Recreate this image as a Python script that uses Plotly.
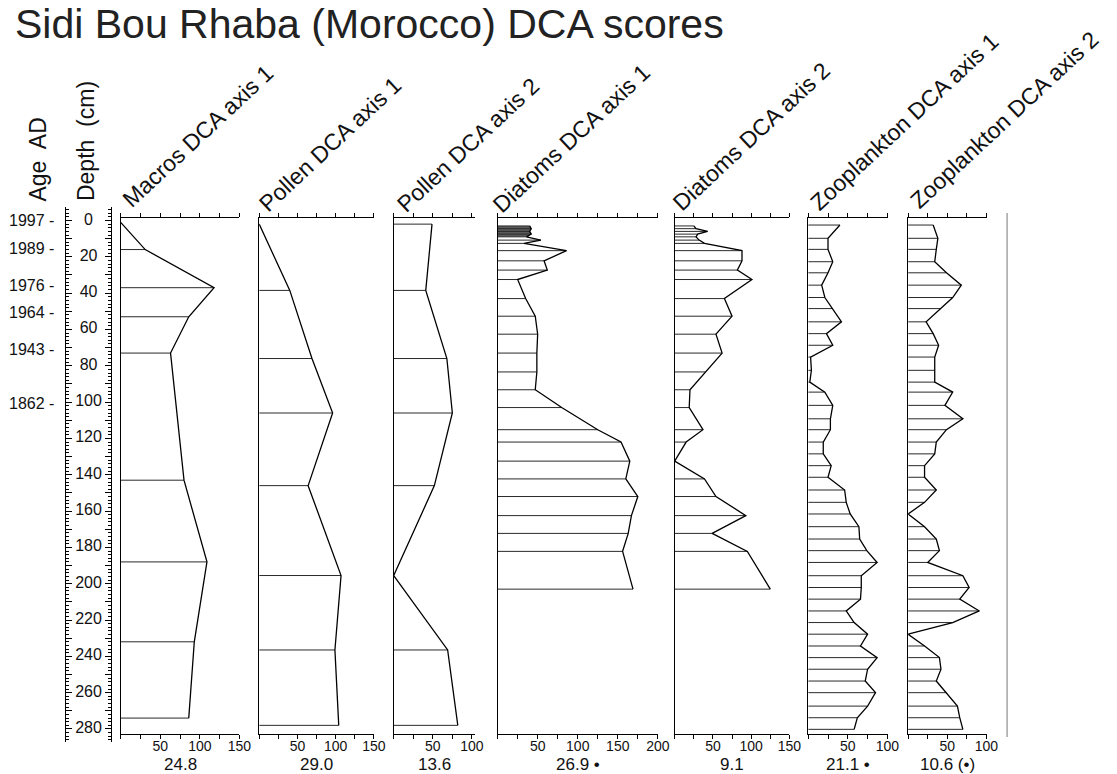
import plotly.graph_objects as go

# ---------------- data ----------------
macro_depth = [1, 16, 37, 53, 73, 143, 188, 232, 274]
macro_dca1 = [0, 31, 118, 86, 63, 80, 109, 93, 86]

pollen_depth = [2, 38.5, 76, 106, 146, 195.5, 236.5, 278]
pollen_dca1 = [0, 40, 69, 96, 64, 107, 99, 104]
pollen_dca2 = [49, 41, 68, 75, 52, 0, 69, 82]

diatom_depth = [3, 4.5, 6, 7.5, 9, 10.8, 12.6, 16.6, 22.2, 27.3, 32.5, 43, 52.7, 62.6,
                73, 83.4, 93.2, 103, 115.2, 122, 132.5, 142.3, 152, 162.5, 172.3, 182.2, 203]
diatom_dca1 = [40, 42, 40, 42, 36, 54, 33, 86, 58, 62, 25, 35, 47, 50,
               49, 49, 47, 80, 125, 154, 165, 160, 175, 167, 163, 156, 169]
diatom_dca2 = [25, 28, 43, 30, 28, 32, 39, 88, 88, 82, 101, 65, 75, 54,
               62, 40, 20, 19, 37, 15, 0, 39, 54, 93, 49, 95, 125]

zoo_depth = [2.5, 9.8, 15.9, 22.7, 28.8, 35.6, 42.4, 48.5, 55.8, 62.3, 68.7, 75.2, 82.5, 89,
             94.5, 101.8, 109.2, 115.2, 122, 128.5, 135, 141.4, 148.4, 155.2, 161.6, 168.6,
             175.4, 181.8, 188.3, 195.6, 202.1, 208.5, 215, 221.4, 227.8, 234.3, 240.7, 247.1,
             253.6, 260, 267.4, 273.8, 280.2]
zoo_dca1 = [40, 25, 25, 31, 25, 17, 21, 31, 42, 23, 31, 3, 4, 2,
            21, 31, 28, 28, 19, 19, 29, 25, 46, 48, 53, 64,
            65, 74, 87, 67, 67, 66, 48, 58, 75, 66, 87, 75,
            72, 85, 75, 62, 58]
zoo_dca2 = [32, 38, 36, 34, 49, 68, 57, 42, 23, 32, 39, 34, 34, 34,
            57, 47, 70, 49, 36, 34, 21, 21, 36, 21, 0, 21,
            36, 40, 25, 70, 78, 66, 91, 57, 0, 21, 40, 42,
            36, 49, 63, 66, 70]

panel_titles = ["Macros DCA axis 1", "Pollen DCA axis 1", "Pollen DCA axis 2",
                "Diatoms DCA axis 1", "Diatoms DCA axis 2",
                "Zooplankton DCA axis 1", "Zooplankton DCA axis 2"]
panel_stats = ["24.8", "29.0", "13.6", "26.9 \u2022", "9.1", "21.1 \u2022", "10.6 (\u2022)"]
panel_xmax = [150, 150, 100, 200, 150, 100, 100]

depth_ticks = list(range(0, 281, 20))
age_labels = ["1997", "1989", "1976", "1964", "1943", "1862"]
age_depths = [0, 15.4, 35.7, 50.5, 70.9, 100.5]

title_text = "Sidi Bou Rhaba (Morocco) DCA scores"

# ---------------- layout helpers ----------------
W, H = 1117, 774
def px(x):
    return x / W
def py(y):
    return 1 - y / H

ZERO_Y, PX_PER_CM = 220.5, 1.816
def depth_at(y):
    return (y - ZERO_Y) / PX_PER_CM

FONT = "Liberation Sans, Arial, sans-serif"
INK = "#111111"

series = [
    (macro_depth, macro_dca1),
    (pollen_depth, pollen_dca1),
    (pollen_depth, pollen_dca2),
    (diatom_depth, diatom_dca1),
    (diatom_depth, diatom_dca2),
    (zoo_depth, zoo_dca1),
    (zoo_depth, zoo_dca2),
]
# pixel geometry: (left px of 0, right px, range max)
geom = [(122, 242, 150), (262, 378, 150), (398, 480, 103.8), (503, 665, 200),
        (682, 798, 150), (817, 898, 101.2), (918, 998, 101.2)]
header_centers = [(200, 136), (334, 144), (473, 145), (578, 138), (760, 136),
                  (914, 122), (1015, 120)]

PANEL_TOP, PANEL_BOT = 218, 734

fig = go.Figure()
layout = dict(width=W, height=H, margin=dict(l=0, r=0, t=0, b=0),
              paper_bgcolor="white", plot_bgcolor="white", showlegend=False,
              font=dict(family=FONT, color=INK))
annotations = []

for i, ((dep, val), (x0, x1, rmax), xmax) in enumerate(zip(series, geom, panel_xmax), start=1):
    xa, ya = f"x{i}", f"y{i}"
    # horizontal bars
    bx, by = [], []
    for d, v in zip(dep, val):
        bx += [0, v, None]
        by += [d, d, None]
    if i == 4:
        n = sum(1 for d in dep if d < 10)
        fig.add_trace(go.Scatter(x=[0] + val[:n] + [0], y=[dep[0]] + dep[:n] + [dep[n - 1]],
                                 fill="toself", fillcolor="#5a5a5a", mode="lines",
                                 line=dict(width=0), xaxis=xa, yaxis=ya, hoverinfo="skip"))
    fig.add_trace(go.Scatter(x=bx, y=by, mode="lines", line=dict(color="#2a2a2a", width=1),
                             xaxis=xa, yaxis=ya, hoverinfo="skip"))
    fig.add_trace(go.Scatter(x=val, y=dep, mode="lines", line=dict(color="#000", width=1.3),
                             xaxis=xa, yaxis=ya))
    tv = list(range(0, xmax + 1, 25))
    tt = [str(t) if t >= 50 and t % 50 == 0 else "" for t in tv]
    layout[f"xaxis{i}"] = dict(domain=[px(x0), px(x1)], range=[0, rmax], anchor=ya,
                               showline=True, linecolor="#000", linewidth=1, mirror="ticks",
                               ticks="outside", ticklen=4, tickcolor="#000",
                               tickvals=tv, ticktext=tt, tickfont=dict(size=14),
                               ticklabelstandoff=-5,
                               showgrid=False, zeroline=False)
    layout[f"yaxis{i}"] = dict(domain=[py(PANEL_BOT), py(PANEL_TOP)],
                               range=[depth_at(PANEL_BOT), depth_at(PANEL_TOP)],
                               anchor=xa, showline=True, linecolor="#000", linewidth=1,
                               ticks="", showticklabels=False, showgrid=False, zeroline=False)
    cx, cy = header_centers[i - 1]
    annotations.append(dict(text=panel_titles[i - 1], x=px(cx), y=py(cy), xref="paper",
                            yref="paper", showarrow=False, textangle=-43,
                            xanchor="center", yanchor="middle", font=dict(size=23)))
    annotations.append(dict(text=panel_stats[i - 1], x=px((x0 + x1) / 2), y=py(764),
                            xref="paper", yref="paper", showarrow=False, borderpad=0,
                            xanchor="center", yanchor="middle", font=dict(size=17)))

# depth ruler
RUL_TOP, RUL_BOT = 207, 742
fig.add_trace(go.Scatter(x=[0.5] * len(depth_ticks), y=depth_ticks, mode="text",
                         text=[str(d) for d in depth_ticks], textfont=dict(size=16, color=INK),
                         xaxis="x8", yaxis="y8", hoverinfo="skip"))
layout["xaxis8"] = dict(domain=[px(67), px(112)], range=[0, 1], anchor="y8", visible=False)
layout["yaxis8"] = dict(domain=[py(RUL_BOT), py(RUL_TOP)],
                        range=[depth_at(RUL_BOT), depth_at(RUL_TOP)], anchor="x8",
                        showline=True, linecolor="#000", linewidth=1, mirror="ticks",
                        ticks="inside", ticklen=6, tickcolor="#000", dtick=10, tick0=0,
                        minor=dict(dtick=2, ticklen=3, ticks="inside", tickcolor="#000"),
                        showticklabels=False, showgrid=False, zeroline=False)

for lab, d in zip(age_labels, age_depths):
    annotations.append(dict(text=lab + " -", x=px(57), y=d, xref="paper", yref="y8",
                            showarrow=False, xanchor="right", yanchor="middle",
                            font=dict(size=16)))

annotations.append(dict(text="Age  AD", x=px(38), y=py(160), xref="paper", yref="paper",
                        showarrow=False, textangle=-90, xanchor="center", yanchor="middle",
                        font=dict(size=23)))
annotations.append(dict(text="Depth  (cm)", x=px(87), y=py(141), xref="paper", yref="paper",
                        showarrow=False, textangle=-90, xanchor="center", yanchor="middle",
                        font=dict(size=23)))
annotations.append(dict(text=title_text, x=px(13), y=py(24), xref="paper", yref="paper",
                        showarrow=False, xanchor="left", yanchor="middle",
                        font=dict(size=41, color="#222")))

layout["annotations"] = annotations
layout["shapes"] = [dict(type="line", xref="paper", yref="paper", x0=px(1018), x1=px(1018),
                         y0=py(213), y1=py(737), line=dict(color="#777", width=1))]
fig.update_layout(**layout)
fig.write_html("out.html", config={"displayModeBar": False},
               post_script="document.body.style.margin='0px';document.body.style.overflow='hidden';")
